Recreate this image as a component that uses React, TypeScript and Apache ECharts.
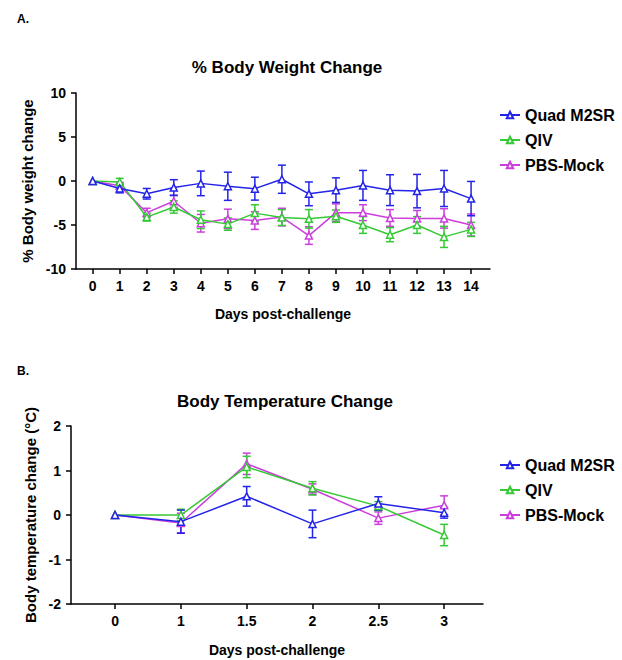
import React, { useEffect, useRef } from 'react';
import * as echarts from 'echarts';

const SERIES_NAMES = ['Quad M2SR', 'QIV', 'PBS-Mock'];
const COLORS = ['#2424E8', '#36C936', '#CC3EDB'];

// Panel A: % body weight change
const weightDays = [0, 1, 2, 3, 4, 5, 6, 7, 8, 9, 10, 11, 12, 13, 14];
const weightQuad = [0, -0.85, -1.45, -0.75, -0.27, -0.6, -0.87, 0.2, -1.46, -1.04, -0.5, -1.04, -1.15, -0.85, -2.0];
const weightQuadErr = [0, 0.5, 0.6, 0.9, 1.4, 1.6, 1.3, 1.6, 1.35, 1.4, 1.7, 1.75, 1.9, 2.05, 1.95];
const weightQIV = [0, -0.1, -4.1, -2.95, -4.4, -4.9, -3.65, -4.15, -4.3, -4.0, -5.0, -6.1, -5.0, -6.35, -5.5];
const weightQIVErr = [0, 0.4, 0.45, 0.7, 1.0, 0.7, 0.95, 0.9, 1.05, 0.7, 0.95, 0.8, 0.95, 1.2, 0.8];
const weightPBS = [0, -0.55, -3.6, -2.3, -4.8, -4.3, -4.5, -4.1, -6.2, -3.6, -3.6, -4.2, -4.25, -4.25, -5.0];
const weightPBSErr = [0, 0.4, 0.5, 0.7, 1.0, 1.1, 1.0, 1.0, 1.0, 1.0, 0.9, 0.95, 0.9, 1.1, 1.25];
const weightYTicks = [-10, -5, 0, 5, 10];

// Panel B: body temperature change
const tempLabels = ['0', '1', '1.5', '2', '2.5', '3'];
const tempQuad = [0, -0.15, 0.42, -0.2, 0.26, 0.05];
const tempQuadErr = [0, 0.26, 0.22, 0.31, 0.15, 0.12];
const tempQIV = [0, 0.0, 1.08, 0.6, 0.2, -0.45];
const tempQIVErr = [0, 0.13, 0.24, 0.15, 0.1, 0.24];
const tempPBS = [0, -0.18, 1.15, 0.58, -0.07, 0.22];
const tempPBSErr = [0, 0.22, 0.24, 0.12, 0.14, 0.21];
const tempYTicks = [-2, -1, 0, 1, 2];

const FONT = 'Arial, "Liberation Sans", sans-serif';

function errorSeries(xs: number[], means: number[], errs: number[], color: string, gridIndex: number) {
  const data = xs
    .map((x, i) => [x, means[i] - errs[i], means[i] + errs[i], errs[i]])
    .filter((d) => d[3] > 0);
  return {
    type: 'custom',
    xAxisIndex: gridIndex,
    yAxisIndex: gridIndex,
    silent: true,
    z: 2,
    data,
    renderItem: (params: any, api: any) => {
      const x = api.value(0);
      const top = api.coord([x, api.value(2)]);
      const bot = api.coord([x, api.value(1)]);
      const w = 4;
      const style = { stroke: color, lineWidth: 1.5, fill: 'none' };
      return {
        type: 'group',
        children: [
          { type: 'line', shape: { x1: top[0], y1: top[1], x2: bot[0], y2: bot[1] }, style },
          { type: 'line', shape: { x1: top[0] - w, y1: top[1], x2: top[0] + w, y2: top[1] }, style },
          { type: 'line', shape: { x1: bot[0] - w, y1: bot[1], x2: bot[0] + w, y2: bot[1] }, style },
        ],
      };
    },
  };
}

function lineSeries(name: string, xs: number[], means: number[], color: string, gridIndex: number, z: number) {
  return {
    type: 'line',
    name,
    xAxisIndex: gridIndex,
    yAxisIndex: gridIndex,
    data: xs.map((x, i) => [x, means[i]]),
    symbol: 'triangle',
    symbolSize: 7,
    z,
    lineStyle: { color, width: 1.5 },
    itemStyle: { color: '#fff', borderColor: color, borderWidth: 1.5 },
  };
}

const axisLine = { show: true, onZero: false, lineStyle: { color: '#000', width: 1.5 } };
const axisTickStyle = { color: '#000', width: 1.5 };
const labelStyle = { color: '#000', fontWeight: 'bold' as const, fontSize: 14, fontFamily: FONT };
const nameStyle = { color: '#000', fontWeight: 'bold' as const, fontSize: 14, fontFamily: FONT };
const yNameStyle = { color: '#000', fontWeight: 'bold' as const, fontSize: 15, fontFamily: FONT };

export default function App() {
  const ref = useRef<HTMLDivElement>(null);
  useEffect(() => {
    if (!ref.current) return;
    const chart = echarts.init(ref.current, undefined, { renderer: 'svg' });
    const tempIdx = tempLabels.map((_, i) => i);

    const weightSets = [
      [weightQuad, weightQuadErr],
      [weightQIV, weightQIVErr],
      [weightPBS, weightPBSErr],
    ];
    const tempSets = [
      [tempQuad, tempQuadErr],
      [tempQIV, tempQIVErr],
      [tempPBS, tempPBSErr],
    ];

    const series: any[] = [];
    const order = [2, 1, 0];
    order.forEach((i, k) => {
      series.push(lineSeries(SERIES_NAMES[i], weightDays, weightSets[i][0], COLORS[i], 0, 3 + k));
      series.push(lineSeries(SERIES_NAMES[i], tempIdx, tempSets[i][0], COLORS[i], 1, 3 + k));
    });
    order.forEach((i) => {
      series.push(errorSeries(weightDays, weightSets[i][0], weightSets[i][1], COLORS[i], 0));
      series.push(errorSeries(tempIdx, tempSets[i][0], tempSets[i][1], COLORS[i], 1));
    });

    const legendCommon = {
      orient: 'vertical',
      left: 494,
      itemWidth: 20,
      itemHeight: 8,
      itemGap: 9,
      data: SERIES_NAMES,
      textStyle: { color: '#000', fontWeight: 'bold', fontSize: 16, fontFamily: FONT },
    };

    chart.setOption({
      animation: false,
      backgroundColor: '#fff',
      title: [
        { text: 'A.', left: 12, top: 8, textStyle: { fontSize: 12, fontWeight: 'bold', color: '#000', fontFamily: FONT } },
        { text: '% Body Weight Change', left: 282, top: 54, textAlign: 'center', textStyle: { fontSize: 17, fontWeight: 'bold', color: '#000', fontFamily: FONT } },
        { text: 'B.', left: 12, top: 360, textStyle: { fontSize: 12, fontWeight: 'bold', color: '#000', fontFamily: FONT } },
        { text: 'Body Temperature Change', left: 280, top: 388, textAlign: 'center', textStyle: { fontSize: 17, fontWeight: 'bold', color: '#000', fontFamily: FONT } },
      ],
      legend: [
        { ...legendCommon, top: 102 },
        { ...legendCommon, top: 452 },
      ],
      grid: [
        { left: 76, top: 93, width: 414, height: 176 },
        { left: 71, top: 426, width: 412, height: 178 },
      ],
      xAxis: [
        {
          type: 'value',
          gridIndex: 0,
          min: -0.618,
          max: 14.7,
          axisLine,
          axisTick: { show: true, customValues: weightDays, length: 5, lineStyle: axisTickStyle },
          axisLabel: { ...labelStyle, customValues: weightDays, margin: 10 },
          splitLine: { show: false },
          name: 'Days post-challenge',
          nameLocation: 'middle',
          nameGap: 38,
          nameTextStyle: nameStyle,
        },
        {
          type: 'value',
          gridIndex: 1,
          min: -0.669,
          max: 5.59,
          axisLine,
          axisTick: { show: true, customValues: tempIdx, length: 5, lineStyle: axisTickStyle },
          axisLabel: { ...labelStyle, customValues: tempIdx, margin: 10, formatter: (v: number) => tempLabels[Math.round(v)] ?? '' },
          splitLine: { show: false },
          name: 'Days post-challenge',
          nameLocation: 'middle',
          nameGap: 39,
          nameTextStyle: nameStyle,
        },
      ],
      yAxis: [
        {
          type: 'value',
          gridIndex: 0,
          min: -10,
          max: 10,
          interval: 5,
          axisLine,
          axisTick: { show: true, customValues: weightYTicks, length: 5, lineStyle: axisTickStyle },
          axisLabel: { ...labelStyle, customValues: weightYTicks, margin: 10 },
          splitLine: { show: false },
          name: '% Body weight change',
          nameLocation: 'middle',
          nameGap: 34,
          nameTextStyle: yNameStyle,
        },
        {
          type: 'value',
          gridIndex: 1,
          min: -2,
          max: 2,
          interval: 1,
          axisLine,
          axisTick: { show: true, customValues: tempYTicks, length: 5, lineStyle: axisTickStyle },
          axisLabel: { ...labelStyle, customValues: tempYTicks, margin: 10 },
          splitLine: { show: false },
          name: 'Body temperature change (°C)',
          nameLocation: 'middle',
          nameGap: 23,
          nameTextStyle: yNameStyle,
        },
      ],
      series,
    });
    return () => chart.dispose();
  }, []);
  return (
    <div
      ref={ref}
      style={{ position: 'absolute', left: 0, top: 0, width: 622, height: 660, background: '#fff' }}
    />
  );
}
